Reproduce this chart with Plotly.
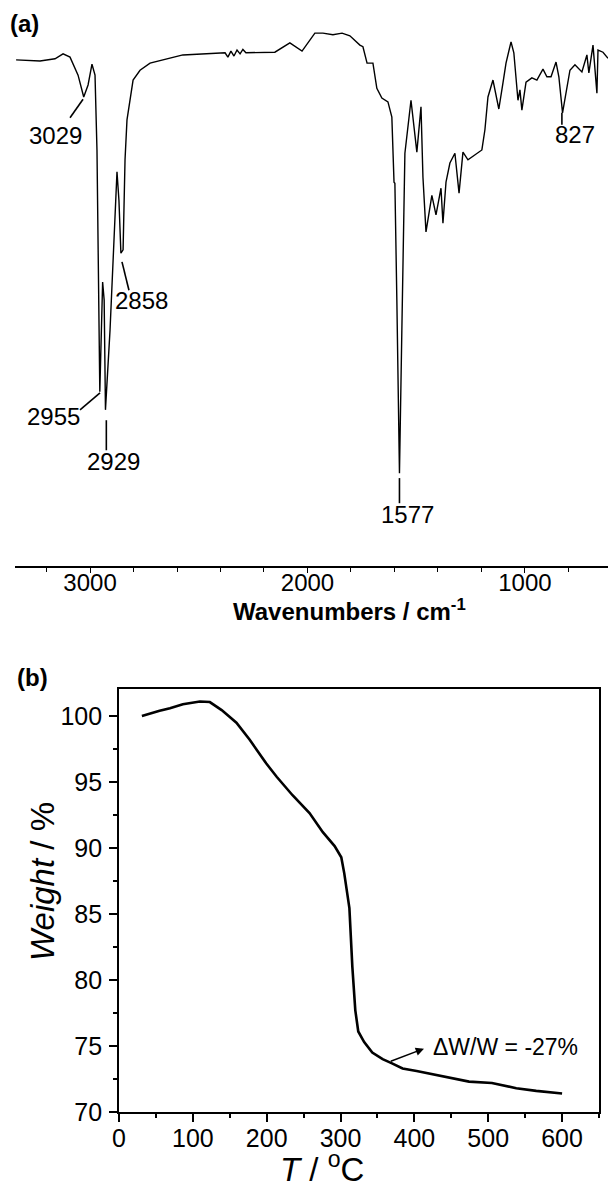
import plotly.graph_objects as go

# ---- Panel (a): FTIR spectrum ----
wavenumber = [3340, 3230, 3161, 3124, 3092, 3055, 3029, 3009, 2991, 2977, 2968, 2962, 2955, 2942, 2935,
              2929, 2908, 2876, 2867, 2858, 2848, 2839, 2830, 2802, 2770, 2724, 2573, 2379, 2366, 2352,
              2338, 2324, 2310, 2297, 2283, 2150, 2081, 2025, 1966, 1929, 1883, 1841, 1805, 1759, 1745,
              1726, 1699, 1681, 1658, 1630, 1612, 1602, 1598, 1589, 1577, 1566, 1552, 1524, 1497, 1478,
              1469, 1455, 1441, 1428, 1409, 1386, 1377, 1363, 1345, 1322, 1303, 1285, 1262, 1230, 1198,
              1184, 1170, 1147, 1120, 1101, 1087, 1064, 1051, 1032, 1023, 1014, 995, 968, 945, 917,
              899, 880, 857, 844, 827, 793, 770, 738, 715, 706, 687, 669, 664, 641, 618]
transmittance = [92.7, 92.5, 92.9, 93.8, 93.2, 89.9, 85.9, 88.1, 91.9, 89.9, 76.2, 48.7, 31.9, 52.0, 48.7,
                 28.6, 43.2, 72.2, 67.0, 57.3, 57.9, 74.4, 81.7, 89.0, 90.8, 92.1, 93.6, 94.0, 93.2, 94.3,
                 93.4, 94.5, 93.8, 94.6, 94.0, 94.1, 95.8, 94.3, 97.6, 97.6, 97.3, 97.6, 97.1, 95.4, 95.1,
                 92.1, 92.1, 87.5, 85.7, 85.0, 82.2, 70.3, 70.1, 48.7, 17.0, 43.2, 75.6, 85.3, 75.8, 84.1,
                 71.2, 61.2, 64.3, 67.9, 64.3, 69.2, 62.8, 70.3, 73.8, 75.6, 68.3, 75.8, 74.4, 75.3, 76.2,
                 79.9, 85.9, 89.0, 83.7, 88.5, 92.1, 96.0, 94.0, 85.3, 87.2, 83.5, 88.6, 89.4, 89.0, 91.0,
                 89.6, 89.6, 92.3, 89.6, 83.0, 90.8, 91.8, 90.5, 93.6, 90.3, 95.4, 86.6, 94.5, 94.1, 93.0]
peak_labels = ["3029", "2858", "2955", "2929", "1577", "827"]

# ---- Panel (b): TGA curve ----
temperature = [31, 42, 55, 69, 86.5, 109.5, 123, 139, 159, 177, 199.5, 213.5, 235, 258, 276, 292, 301,
               305, 308, 312, 316, 320, 324, 332, 343, 357, 369, 384, 403, 430, 447, 474, 505, 538,
               565, 582, 600]
weight = [100.0, 100.2, 100.4, 100.6, 100.9, 101.1, 101.06, 100.45, 99.5, 98.2, 96.4, 95.4, 94.0, 92.65,
          91.2, 90.15, 89.3, 88.1, 86.8, 85.45, 81.0, 77.7, 76.1, 75.3, 74.5, 74.0, 73.7, 73.3, 73.1,
          72.8, 72.6, 72.3, 72.2, 71.8, 71.6, 71.5, 71.4]
loss_label = "ΔW/W = -27%"

FONT = "Liberation Sans, Arial, sans-serif"
H = 1191.0
W = 608.0

fig = go.Figure()
fig.add_trace(go.Scatter(x=wavenumber, y=transmittance, mode="lines",
                         line=dict(color="black", width=1.4), xaxis="x", yaxis="y",
                         showlegend=False, hoverinfo="skip"))
fig.add_trace(go.Scatter(x=temperature, y=weight, mode="lines",
                         line=dict(color="black", width=2.6), xaxis="x2", yaxis="y2",
                         showlegend=False, hoverinfo="skip"))

# peak labels: (text x, text y, line x0, y0, x1, y1)
peak_pos = [
    (3161, 78.9, 3032, 85.5, 3092, 82.1),
    (2761, 48.7, 2853, 55.7, 2821, 50.5),
    (3166, 27.3, 2954, 31.7, 3046, 28.6),
    (2890, 19.2, 2925, 26.7, 2925, 21.2),
    (1538, 9.5, 1577, 16.1, 1577, 11.5),
    (770, 79.1, 830, 83.0, 830, 80.8),
]
annotations = []
shapes = []
for lab, (tx, ty, x0, y0, x1, y1) in zip(peak_labels, peak_pos):
    annotations.append(dict(x=tx, y=ty, xref="x", yref="y", text=lab, showarrow=False,
                            xanchor="center", yanchor="middle",
                            font=dict(family=FONT, size=24, color="black")))
    shapes.append(dict(type="line", xref="x", yref="y", x0=x0, y0=y0, x1=x1, y1=y1,
                       line=dict(color="black", width=1.6)))

annotations += [
    dict(x=8 / W, y=1 - 23 / H, xref="paper", yref="paper", text="<b>(a)</b>", showarrow=False,
         xanchor="left", yanchor="middle", font=dict(family=FONT, size=24, color="black")),
    dict(x=15 / W, y=1 - 677 / H, xref="paper", yref="paper", text="<b>(b)</b>", showarrow=False,
         xanchor="left", yanchor="middle", font=dict(family=FONT, size=24, color="black")),
    dict(x=349 / W, y=1 - 610 / H, xref="paper", yref="paper",
         text="<b>Wavenumbers / cm<sup>-1</sup></b>", showarrow=False,
         xanchor="center", yanchor="middle", font=dict(family=FONT, size=24, color="black")),
    dict(x=42 / W, y=1 - 882 / H, xref="paper", yref="paper", text="<i>Weight</i> / %",
         showarrow=False, textangle=-90, xanchor="center", yanchor="middle",
         font=dict(family=FONT, size=33, color="black")),
    dict(x=322 / W, y=1 - 1167 / H, xref="paper", yref="paper", text="<i>T</i> / <sup>o</sup>C",
         showarrow=False, xanchor="center", yanchor="middle",
         font=dict(family=FONT, size=33, color="black")),
    dict(x=413, y=74.8, ax=366, ay=73.8, xref="x2", yref="y2", axref="x2", ayref="y2", text="",
         showarrow=True, arrowhead=2, arrowsize=1.1, arrowwidth=1.5, arrowcolor="black"),
    dict(x=423, y=74.9, xref="x2", yref="y2", text=loss_label, showarrow=False, xanchor="left",
         yanchor="middle", font=dict(family=FONT, size=23, color="black")),
]

fig.update_layout(
    width=608, height=1191,
    margin=dict(l=0, r=0, t=0, b=0),
    paper_bgcolor="white", plot_bgcolor="white",
    font=dict(family=FONT, color="black"),
    xaxis=dict(domain=[15 / W, 1.0], anchor="y", range=[3345, 618], showgrid=False, zeroline=False,
               showline=True, linecolor="black", linewidth=1.5, ticks="outside", ticklen=5,
               tickwidth=1.3, tickcolor="black", tickvals=[3000, 2000, 1000],
               tickfont=dict(family=FONT, size=24), ticklabelstandoff=-11, automargin=False,
               minor=dict(dtick=200, tick0=0, ticks="outside", ticklen=4, tickwidth=1.2,
                          tickcolor="black", showgrid=False)),
    yaxis=dict(domain=[1 - 566 / H, 1 - 20 / H], anchor="x", range=[0, 100], visible=False),
    xaxis2=dict(domain=[119 / W, 599 / W], anchor="y2", range=[0, 650], showgrid=False,
                zeroline=False, showline=True, mirror=True, linecolor="black", linewidth=1.8,
                ticks="outside", ticklen=8, tickwidth=1.5, tickcolor="black", dtick=100, tick0=0,
                tickfont=dict(family=FONT, size=25), ticklabelstandoff=-5, automargin=False,
                minor=dict(dtick=50, ticks="outside", ticklen=4, tickwidth=1.5, tickcolor="black",
                           showgrid=False)),
    yaxis2=dict(domain=[1 - 1112 / H, 1 - 689 / H], anchor="x2", range=[70, 102.05],
                showgrid=False, zeroline=False, showline=True, mirror=True, linecolor="black",
                linewidth=1.8, ticks="outside", ticklen=8, tickwidth=1.5, tickcolor="black",
                dtick=5, tick0=70, tickfont=dict(family=FONT, size=25), ticklabelstandoff=2,
                automargin=False,
                minor=dict(dtick=2.5, ticks="outside", ticklen=4, tickwidth=1.5,
                           tickcolor="black", showgrid=False)),
    annotations=annotations,
    shapes=shapes,
)

fig.write_html("out.html",
               post_script="document.body.style.margin='0';document.body.style.overflow='hidden';")
